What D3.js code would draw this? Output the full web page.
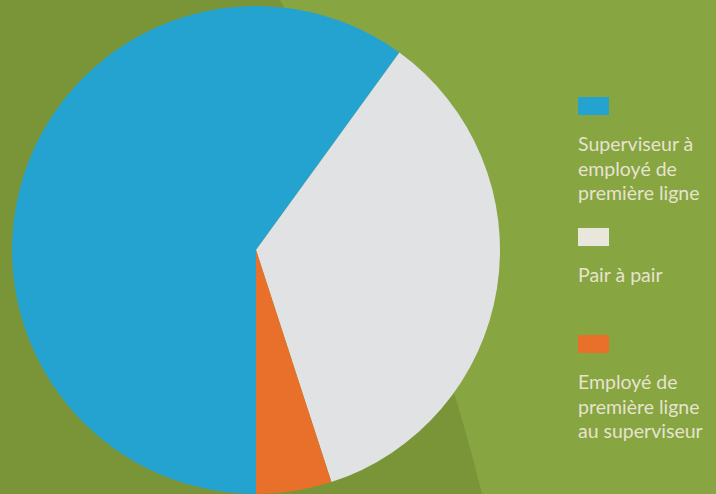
<!DOCTYPE html>
<html>
<head>
<meta charset="utf-8">
<script src="https://cdn.jsdelivr.net/npm/d3@7"></script>
<style>
  body { margin: 0; background: #87a541; }
  svg { display: block; }
</style>
</head>
<body>
<script>
const categories = ["Superviseur à employé de première ligne", "Pair à pair", "Employé de première ligne au superviseur"];
const values = [60, 35, 5];
const legendLines = [
  ["Superviseur à", "employé de", "première ligne"],
  ["Pair à pair"],
  ["Employé de", "première ligne", "au superviseur"]
];
const sliceColors = ["#25a3d0", "#e1e2e4", "#e8702a"];
const swatchColors = ["#25a3d0", "#e9e6dc", "#e8702a"];

const width = 716, height = 494;
const cx = 256, cy = 250, radius = 244;

const svg = d3.select(document.body).append("svg")
  .attr("width", width)
  .attr("height", height);

// background
svg.append("rect")
  .attr("width", width).attr("height", height)
  .attr("fill", "#87a541");

// darker swoosh on the left
svg.append("path")
  .attr("d", "M0,0 L280,0 Q420,240 482,494 L0,494 Z")
  .attr("fill", "#7a9537");

// pie, starting at 6 o'clock going clockwise
const pie = d3.pie()
  .sort(null)
  .startAngle(Math.PI)
  .endAngle(3 * Math.PI)
  .value(d => d);

const arc = d3.arc().innerRadius(0).outerRadius(radius);

svg.append("g")
  .attr("transform", `translate(${cx},${cy})`)
  .selectAll("path")
  .data(pie(values))
  .join("path")
    .attr("fill", (d, i) => sliceColors[i])
    .attr("d", arc);

// legend
const legendY = [97, 228, 335];
const legend = svg.append("g")
  .selectAll("g")
  .data(categories)
  .join("g")
    .attr("transform", (d, i) => `translate(578 ${legendY[i]})`);

legend.append("rect")
  .attr("width", 31)
  .attr("height", 18)
  .attr("fill", (d, i) => swatchColors[i]);

legend.append("text")
  .attr("fill", "#e6e3cf")
  .attr("font-family", "Lato, 'Open Sans', sans-serif")
  .attr("font-size", 19.5)
  .selectAll("tspan")
  .data((d, i) => legendLines[i])
  .join("tspan")
    .attr("x", 0)
    .attr("y", (d, j) => 54 + j * 24.7)
    .text(d => d);
</script>
</body>
</html>
